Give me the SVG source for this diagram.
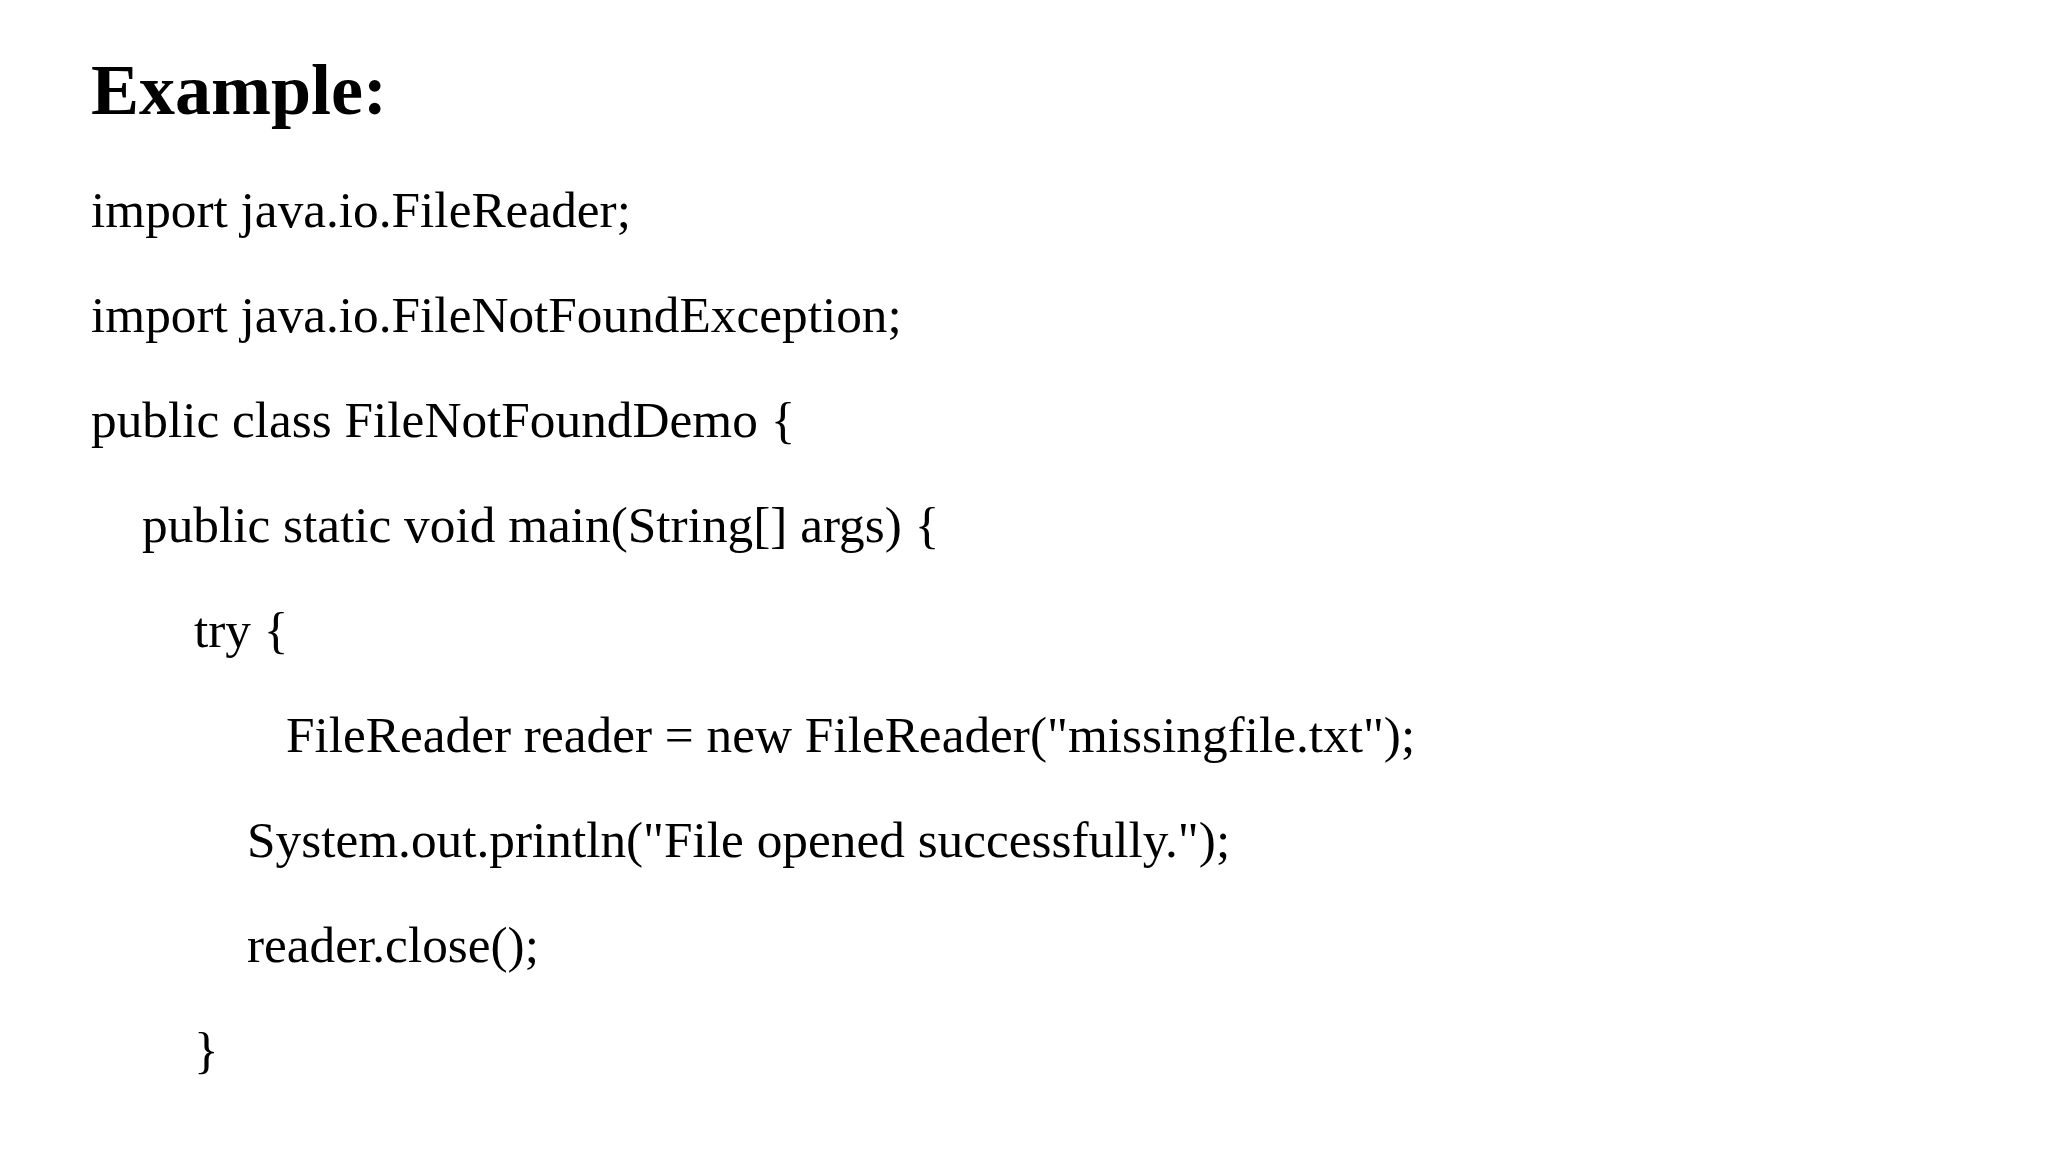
<svg xmlns="http://www.w3.org/2000/svg" width="2048" height="1152" viewBox="0 0 2048 1152">
<style>
.t{font-family:"Liberation Serif","Times New Roman",serif;fill:#000}
.h{font-size:72px;font-weight:bold}
.c{font-size:51.3px}
</style>
<rect width="2048" height="1152" fill="#fff"/>
<g id="title"><text class="t h" x="91" y="114">Example:</text></g>
<g id="code">
<text class="t c" x="91" y="227">import java.io.FileReader;</text>
<text class="t c" x="91" y="332">import java.io.FileNotFoundException;</text>
<text class="t c" x="91" y="437">public class FileNotFoundDemo {</text>
<text class="t c" x="142" y="542">public static void main(String[] args) {</text>
<text class="t c" x="194" y="647">try {</text>
<text class="t c" x="286" y="752">FileReader reader = new FileReader("missingfile.txt");</text>
<text class="t c" x="247" y="857">System.out.println("File opened successfully.");</text>
<text class="t c" x="247" y="962">reader.close();</text>
<text class="t c" x="194" y="1067">}</text>
</g>
</svg>
